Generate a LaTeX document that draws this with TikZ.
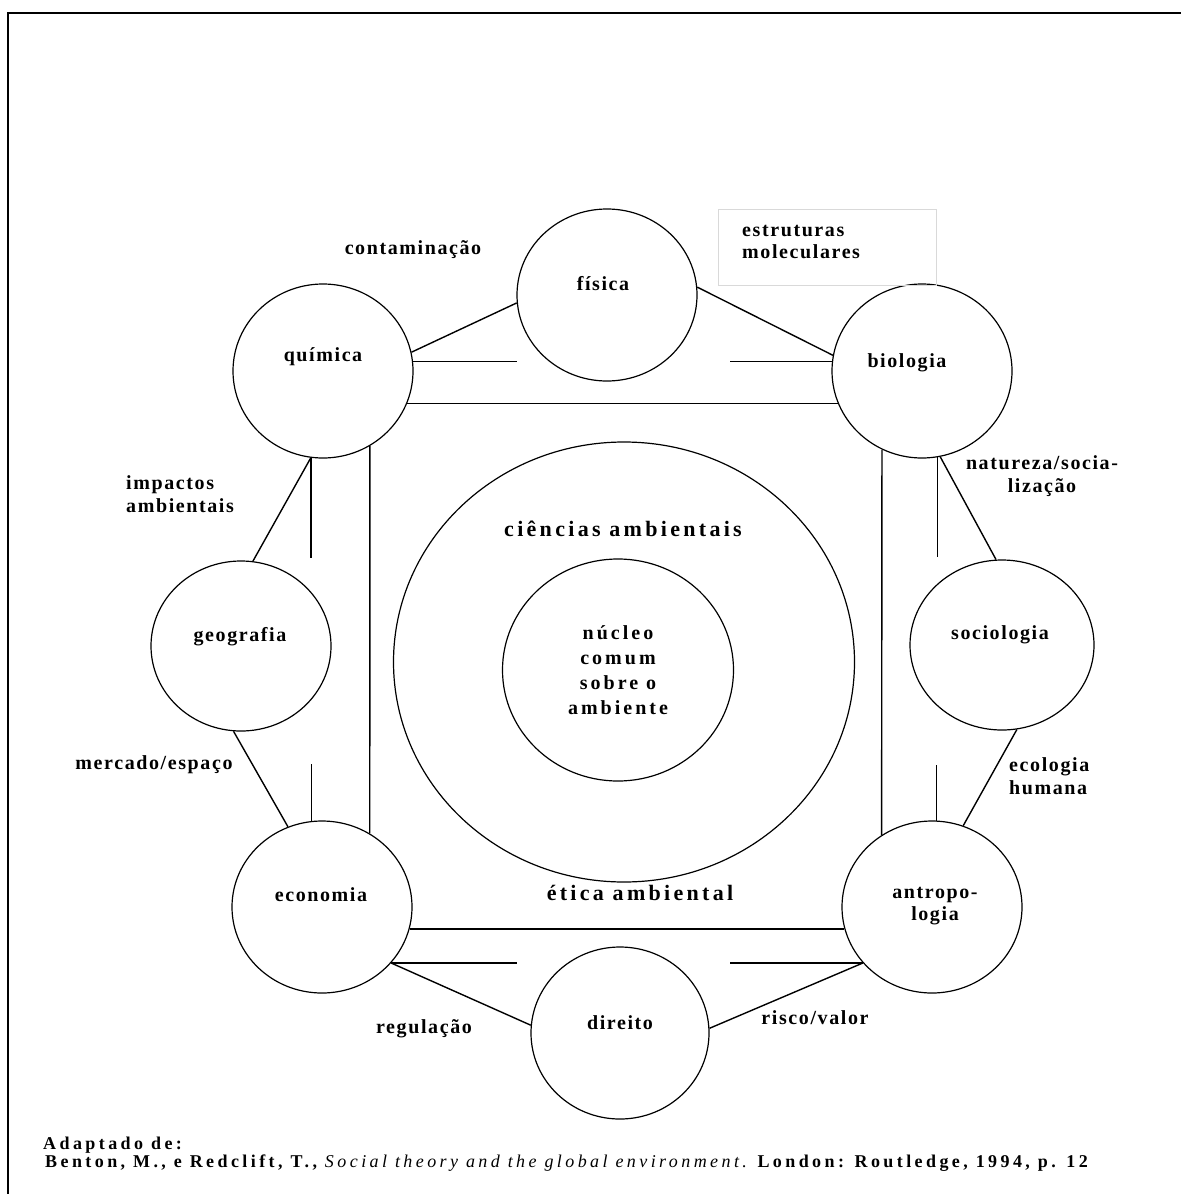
\documentclass[tikz,border=0pt]{standalone}
\usepackage{fontspec}
\setmainfont{Liberation Serif}
\newfontfamily\labfont[LetterSpace=8]{Liberation Serif}
\newfontfamily\bigfont[LetterSpace=15]{Liberation Serif}
\newfontfamily\srcfont[LetterSpace=19]{Liberation Serif}
\usetikzlibrary{shapes.geometric}
\tikzset{
  disc/.style={ellipse, draw, line width=1.2, inner sep=0},
  lab/.style={font=\labfont\bfseries\fontsize{20}{22.5}\selectfont, align=center, inner sep=0},
  big/.style={font=\bigfont\bfseries\fontsize{22}{26}\selectfont, inner sep=0},
  srcline/.style={font=\srcfont\bfseries\fontsize{18}{17}\selectfont, inner sep=0, anchor=west},
  link/.style={line width=1.4},
}

\begin{document}
\begin{tikzpicture}[x=1pt,y=-1pt]
\useasboundingbox (0,0) rectangle (1181,1194);
\draw[line width=2.7] (8,1194) -- (8,13) -- (1181,13);

% rings in the middle
\node[disc, minimum width=461, minimum height=440] (ring) at (624,662) {};
\node[disc, minimum width=231, minimum height=222, font=\bigfont\bfseries\fontsize{20}{25}\selectfont, align=center] (core) at (618,670) {núcleo\\comum\\sobre o\\ambiente};
\node[big] (tcien) at (623,529) {ciências ambientais};
\node[big] (tetica) at (640,893) {ética ambiental};

% disciplines
\node[disc, minimum width=180, minimum height=172] (fisica) at (607,295) {};
\node[disc, minimum width=180, minimum height=174] (quimica) at (323,371) {};
\node[disc, minimum width=180, minimum height=174] (biologia) at (922,371) {};
\node[disc, minimum width=180, minimum height=170] (geografia) at (241,646) {};
\node[disc, minimum width=184, minimum height=170] (sociologia) at (1002,645) {};
\node[disc, minimum width=180, minimum height=172] (economia) at (322,907) {};
\node[disc, minimum width=180, minimum height=172] (antropologia) at (932,907) {};
\node[disc, minimum width=178, minimum height=172] (direito) at (620,1033) {};

\node[lab] (tfis) at (603,284) {física};
\node[lab] (tqui) at (323,357) {química};
\node[lab] (tbio) at (907,363) {biologia};
\node[lab] (tgeo) at (240,637) {geografia};
\node[lab] (tsoc) at (1000,635) {sociologia};
\node[lab] (teco) at (321,895) {economia};
\node[lab] (tant) at (935,906) {antropo-\\logia};
\node[lab] (tdir) at (620,1023) {direito};

% top
\draw[link] (quimica.-21) -- (biologia.-159);
\draw[link] (quimica.6) -- ++(104,0);
\draw[link] (biologia.174) -- ++(-102,0);
\draw[link] (quimica.12) -- (fisica.185);
\draw[link] (fisica.5) -- (biologia.170);
% left
\draw[link] (quimica.-58) -- (economia.57);
\draw[link] (quimica.-98) -- ++(0,100);
\draw[link] (economia.97) -- ++(0,-57);
\draw[link] (quimica.-98) -- (geografia.82);
\draw[link] (geografia.-95) -- (economia.113);
% right
\draw[link] (biologia.-117) -- (antropologia.125);
\draw[link] (biologia.-80) -- ++(0,100);
\draw[link] (antropologia.87) -- ++(0,-56);
\draw[link] (biologia.-78) -- (sociologia.94);
\draw[link] (sociologia.-80) -- (antropologia.69);
% bottom
\draw[link] (economia.-14) -- (antropologia.-166);
\draw[link] (economia.-39) -- ++(126,0);
\draw[link] (antropologia.-141) -- ++(-133,0);
\draw[link] (economia.-39) -- (direito.175);
\draw[link] (direito.3) -- (antropologia.-141);

% link labels
\node[lab] (lcont) at (413,250) {contaminação};
\node[draw=black!15, line width=1, minimum width=218, minimum height=76] (box) at (827,247) {};
\node[lab, align=left, anchor=west] (lestr) at (742,242) {estruturas\\moleculares};
\node[lab, align=left, anchor=west] (limp) at (126,494) {impactos\\ambientais};
\node[lab] (lmerc) at (154,765) {mercado/espaço};
\node[lab] (lnat) at (1042,476) {natureza/socia-\\lização};
\node[lab, align=left, anchor=west] (lecol) at (1009,776) {ecologia\\humana};
\node[lab] (lreg) at (424,1029) {regulação};
\node[lab] (lris) at (815,1018) {risco/valor};

% source
\node[srcline] (src1) at (43,1145) {Adaptado de:};
\node[srcline] (src2) at (45,1163) {Benton, M., e Redclift, T., {\mdseries\itshape Social theory and the global environment.} London: Routledge, 1994, p. 12};
\end{tikzpicture}
\end{document}
